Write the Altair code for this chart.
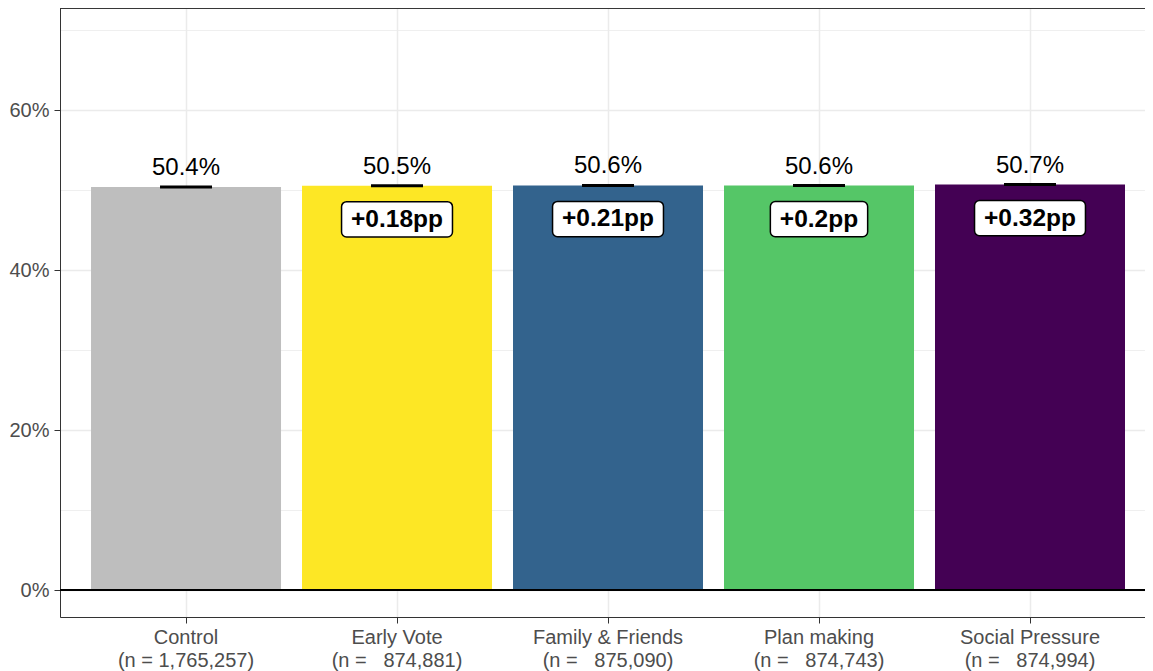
import altair as alt
import pandas as pd

# ---- data ----
conditions = ["Control", "Early Vote", "Family & Friends", "Plan making", "Social Pressure"]
n_labels = ["(n = 1,765,257)", "(n =\u00a0\u00a0\u00a0874,881)", "(n =\u00a0\u00a0\u00a0875,090)",
            "(n =\u00a0\u00a0\u00a0874,743)", "(n =\u00a0\u00a0\u00a0874,994)"]
turnout = [50.36, 50.54, 50.57, 50.56, 50.68]
value_text = ["50.4%", "50.5%", "50.6%", "50.6%", "50.7%"]
effect_text = [None, "+0.18pp", "+0.21pp", "+0.2pp", "+0.32pp"]
colors = ["#bebebe", "#fde725", "#33638d", "#55c667", "#440154"]

FONT = "Liberation Sans"
BOLD_SIZE = 24.5
_w = {"+": 0.584, ".": 0.278, "p": 0.611}


def text_width(s, size):
    return sum(_w.get(c, 0.556) for c in s) * size


labels = [c + "\n" + n for c, n in zip(conditions, n_labels)]
df = pd.DataFrame({"lab": labels, "turnout": turnout, "vtext": value_text,
                   "effect": effect_text})
eff = df[df["effect"].notna()].copy()
eff["box_top"] = eff["turnout"] - 2.0
eff["box_bot"] = eff["turnout"] - 6.4
eff["box_w"] = [text_width(s, BOLD_SIZE) + 19 for s in eff["effect"]]

xscale = alt.Scale(domain=labels, paddingInner=0.0995, paddingOuter=0.1209, align=0.608)
yscale = alt.Scale(domain=[-3.375, 72.75], nice=False, zero=False)

x = alt.X("lab:N", scale=xscale, sort=labels, title=None,
          axis=alt.Axis(labelExpr="split(datum.label, '\\n')", labelAngle=0,
                        labelFontSize=20, labelColor="#4d4d4d", labelFont=FONT,
                        labelLineHeight=23, labelPadding=4, tickSize=6,
                        tickColor="#333333", domainColor="#333333", grid=True,
                        gridColor="#ebebeb", gridWidth=1.5, bandPosition=0.5))
y = alt.Y("turnout:Q", scale=yscale, title=None,
          axis=alt.Axis(values=[0, 10, 20, 30, 40, 50, 60, 70],
                        labelExpr="datum.value % 20 == 0 ? datum.value + '%' : ''",
                        labelFontSize=20, labelColor="#4d4d4d", labelFont=FONT,
                        labelPadding=5, tickSize=6, tickColor="#333333",
                        tickOpacity={"condition": {"test": "datum.value % 20 == 0", "value": 1}, "value": 0},
                        domainColor="#333333", gridColor="#ebebeb",
                        gridWidth={"condition": {"test": "datum.value % 20 == 0", "value": 1.5}, "value": 0.8}))

base = alt.Chart(df)
bars = base.mark_bar().encode(
    x=x, y=y,
    color=alt.Color("lab:N", scale=alt.Scale(domain=labels, range=colors), legend=None))
zero = alt.Chart(df).mark_rule(color="black", strokeWidth=2.2).encode(y=alt.datum(0))
errs = base.mark_tick(color="black", size=52, thickness=3, opacity=1).encode(
    x=alt.X("lab:N", scale=xscale, sort=labels), y=alt.Y("turnout:Q", scale=yscale))
vals = base.mark_text(font=FONT, fontSize=24, color="black", baseline="alphabetic", dy=-12).encode(
    x=alt.X("lab:N", scale=xscale, sort=labels), y=alt.Y("turnout:Q", scale=yscale), text="vtext:N")
boxes = alt.Chart(eff).mark_bar(fill="white", stroke="black", strokeWidth=1.5, cornerRadius=5).encode(
    x=alt.X("lab:N", scale=xscale, sort=labels),
    y=alt.Y("box_top:Q", scale=yscale), y2="box_bot:Q",
    size=alt.Size("box_w:Q", scale=None, legend=None))
efftext = alt.Chart(eff).mark_text(font=FONT, fontSize=BOLD_SIZE, fontWeight="bold", color="black",
                                   baseline="alphabetic", dy=41).encode(
    x=alt.X("lab:N", scale=xscale, sort=labels), y=alt.Y("turnout:Q", scale=yscale), text="effect:N")
top = alt.Chart(df).mark_rule(color="#333333", strokeWidth=1).encode(y=alt.value(0))

chart = alt.layer(bars, zero, errs, vals, boxes, efftext, top).properties(
    width=1085, height=609,
    autosize=alt.AutoSizeParams(type="none"),
    padding={"left": 52, "top": 0, "right": 0, "bottom": 54},
).configure_view(stroke=None).configure(background="white")

chart.save("out.html", embed_options={"renderer": "svg", "actions": False})
